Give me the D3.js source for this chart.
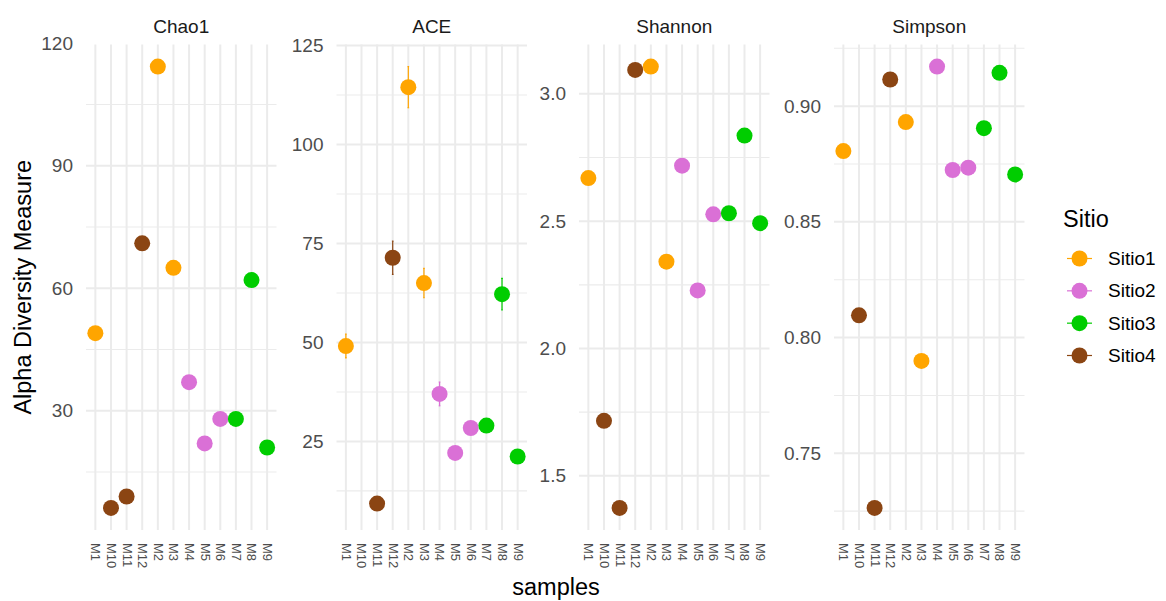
<!DOCTYPE html>
<html>
<head>
<meta charset="utf-8">
<script src="https://cdn.jsdelivr.net/npm/d3@7"></script>
<style>
  html, body { margin: 0; padding: 0; background: #ffffff; }
  svg { display: block; font-family: "Liberation Sans", Arial, sans-serif; }
</style>
</head>
<body>
<svg id="chart" width="1166" height="601"></svg>
<script>
// ---------------- data ----------------
const samples = ["M1","M10","M11","M12","M2","M3","M4","M5","M6","M7","M8","M9"];
const sitio   = ["Sitio1","Sitio4","Sitio4","Sitio4","Sitio1","Sitio1","Sitio2","Sitio2","Sitio2","Sitio3","Sitio3","Sitio3"];
const sitioLevels = ["Sitio1","Sitio2","Sitio3","Sitio4"];
const sitioColors = ["#FFA500","#DA70D6","#00CD00","#8B4513"];

const measures = ["Chao1","ACE","Shannon","Simpson"];
const chao1   = [49, 6.2, 9, 71, 114.3, 65, 37, 22, 28, 28, 62, 21];
const ace     = [49.1, null, 9.3, 71.4, 114.5, 65, 37, 22.1, 28.4, 29, 62.2, 21.2];
const aceSE   = [3, null, 1.1, 4.2, 5.2, 3.7, 3, 0.8, 1, 1, 4, 0.8];
const shannon = [2.669, 1.716, 1.374, 3.094, 3.107, 2.341, 2.718, 2.228, 2.527, 2.531, 2.836, 2.492];
const simpson = [0.8806, 0.8096, 0.7264, 0.9115, 0.8931, 0.7899, 0.9171, 0.8724, 0.8734, 0.8905, 0.9144, 0.8705];

const chao1Ticks   = [30, 60, 90, 120];
const aceTicks     = [25, 50, 75, 100, 125];
const shannonTicks = [1.5, 2.0, 2.5, 3.0];
const simpsonTicks = [0.75, 0.80, 0.85, 0.90];
const chao1Labels   = ["30","60","90","120"];
const aceLabels     = ["25","50","75","100","125"];
const shannonLabels = ["1.5","2.0","2.5","3.0"];
const simpsonLabels = ["0.75","0.80","0.85","0.90"];

const xTitle = "samples";
const yTitle = "Alpha Diversity Measure";
const legendTitle = "Sitio";

// ---------------- layout ----------------
const svg = d3.select("#chart");
const panelTop = 44.5, panelBottom = 530;
const panelLefts = [86, 336.5, 579, 834];
const panelWidth = 190.5;
const color = d3.scaleOrdinal().domain(sitioLevels).range(sitioColors);

const panels = [
  {name: measures[0], values: chao1, se: null, ticks: chao1Ticks, labels: chao1Labels},
  {name: measures[1], values: ace, se: aceSE, ticks: aceTicks, labels: aceLabels},
  {name: measures[2], values: shannon, se: null, ticks: shannonTicks, labels: shannonLabels},
  {name: measures[3], values: simpson, se: null, ticks: simpsonTicks, labels: simpsonLabels}
];

const gridCol = "#EBEBEB";

panels.forEach((p, i) => {
  const left = panelLefts[i], right = left + panelWidth;
  const x = d3.scalePoint().domain(samples).range([left, right]).padding(0.6);

  // y domain from data (+ error bars) with 5% expansion
  const lows = [], highs = [];
  p.values.forEach((v, k) => {
    if (v == null) return;
    const e = p.se && p.se[k] != null ? p.se[k] : 0;
    lows.push(v - e); highs.push(v + e);
  });
  const mn = d3.min(lows), mx = d3.max(highs), pad = (mx - mn) * 0.05;
  const y = d3.scaleLinear().domain([mn - pad, mx + pad]).range([panelBottom, panelTop]);

  const g = svg.append("g");

  // minor gridlines (midpoints between major ticks, extended one step)
  const step = p.ticks[1] - p.ticks[0];
  const minors = [];
  const allMajors = [p.ticks[0] - step, ...p.ticks, p.ticks[p.ticks.length - 1] + step];
  for (let k = 0; k < allMajors.length - 1; k++) minors.push((allMajors[k] + allMajors[k + 1]) / 2);
  const [d0, d1] = y.domain();
  g.selectAll("line.minor").data(minors.filter(v => v >= d0 && v <= d1)).join("line")
    .attr("x1", left).attr("x2", right)
    .attr("y1", d => y(d)).attr("y2", d => y(d))
    .attr("stroke", gridCol).attr("stroke-width", 1.1);

  // major horizontal gridlines
  g.selectAll("line.major").data(p.ticks.filter(v => v >= d0 && v <= d1)).join("line")
    .attr("x1", left).attr("x2", right)
    .attr("y1", d => y(d)).attr("y2", d => y(d))
    .attr("stroke", gridCol).attr("stroke-width", 2);

  // vertical gridlines
  g.selectAll("line.vx").data(samples).join("line")
    .attr("x1", d => x(d)).attr("x2", d => x(d))
    .attr("y1", panelTop).attr("y2", panelBottom)
    .attr("stroke", gridCol).attr("stroke-width", 2);

  // y axis (no domain line/ticks)
  const yAxis = d3.axisLeft(y).tickValues(p.ticks).tickFormat((d, k) => p.labels[k]).tickSize(0).tickPadding(13);
  const ya = g.append("g").attr("transform", `translate(${left},0)`).call(yAxis);
  ya.select(".domain").remove();
  ya.selectAll("text").attr("font-size", 19).attr("fill", "#4D4D4D")
    .attr("font-family", "Liberation Sans, Arial, sans-serif");

  // x axis
  const xAxis = d3.axisBottom(x).tickSize(0).tickPadding(0);
  const xa = g.append("g").attr("transform", `translate(0,${panelBottom})`).call(xAxis);
  xa.select(".domain").remove();
  xa.selectAll("text")
    .attr("font-size", 13).attr("fill", "#4D4D4D")
    .attr("font-family", "Liberation Sans, Arial, sans-serif")
    .attr("transform", "rotate(90)")
    .attr("text-anchor", "start")
    .attr("x", 13).attr("y", 0).attr("dy", "0.35em");

  // strip title
  g.append("text").attr("x", (left + right) / 2).attr("y", 32.5)
    .attr("text-anchor", "middle").attr("font-size", 19).attr("fill", "#1A1A1A")
    .text(p.name);

  // error bars
  if (p.se) {
    const eb = samples.map((s, k) => ({s, v: p.values[k], e: p.se[k], site: sitio[k]}))
      .filter(d => d.v != null && d.e != null);
    g.selectAll("line.eb").data(eb).join("line")
      .attr("x1", d => x(d.s)).attr("x2", d => x(d.s))
      .attr("y1", d => y(d.v - d.e)).attr("y2", d => y(d.v + d.e))
      .attr("stroke", d => color(d.site)).attr("stroke-width", 1.2);
    ["lo", "hi"].forEach(side => {
      g.selectAll("line.cap" + side).data(eb).join("line")
        .attr("x1", d => x(d.s) - 0.8).attr("x2", d => x(d.s) + 0.8)
        .attr("y1", d => y(side === "lo" ? d.v - d.e : d.v + d.e))
        .attr("y2", d => y(side === "lo" ? d.v - d.e : d.v + d.e))
        .attr("stroke", d => color(d.site)).attr("stroke-width", 1.2);
    });
  }

  // points
  const pts = samples.map((s, k) => ({s, v: p.values[k], site: sitio[k]})).filter(d => d.v != null);
  g.selectAll("circle").data(pts).join("circle")
    .attr("cx", d => x(d.s)).attr("cy", d => y(d.v)).attr("r", 8)
    .attr("fill", d => color(d.site));
});

// axis titles
svg.append("text").attr("x", 556).attr("y", 595).attr("text-anchor", "middle")
  .attr("font-size", 23.5).attr("fill", "#000").text(xTitle);
svg.append("text").attr("transform", `translate(31,${(panelTop + panelBottom) / 2}) rotate(-90)`)
  .attr("text-anchor", "middle").attr("font-size", 23.5).attr("fill", "#000").text(yTitle);

// legend
const lg = svg.append("g");
lg.append("text").attr("x", 1063).attr("y", 227).attr("font-size", 23.5).attr("fill", "#000").text(legendTitle);
const ly = d3.scalePoint().domain(sitioLevels).range([258.5, 355.5]);
sitioLevels.forEach(s => {
  lg.append("line").attr("x1", 1067).attr("x2", 1092).attr("y1", ly(s)).attr("y2", ly(s))
    .attr("stroke", color(s)).attr("stroke-width", 1.2);
  lg.append("circle").attr("cx", 1079.5).attr("cy", ly(s)).attr("r", 8).attr("fill", color(s));
  lg.append("text").attr("x", 1108).attr("y", ly(s)).attr("dy", "0.35em")
    .attr("font-size", 19).attr("fill", "#000").text(s);
});
</script>
</body>
</html>
